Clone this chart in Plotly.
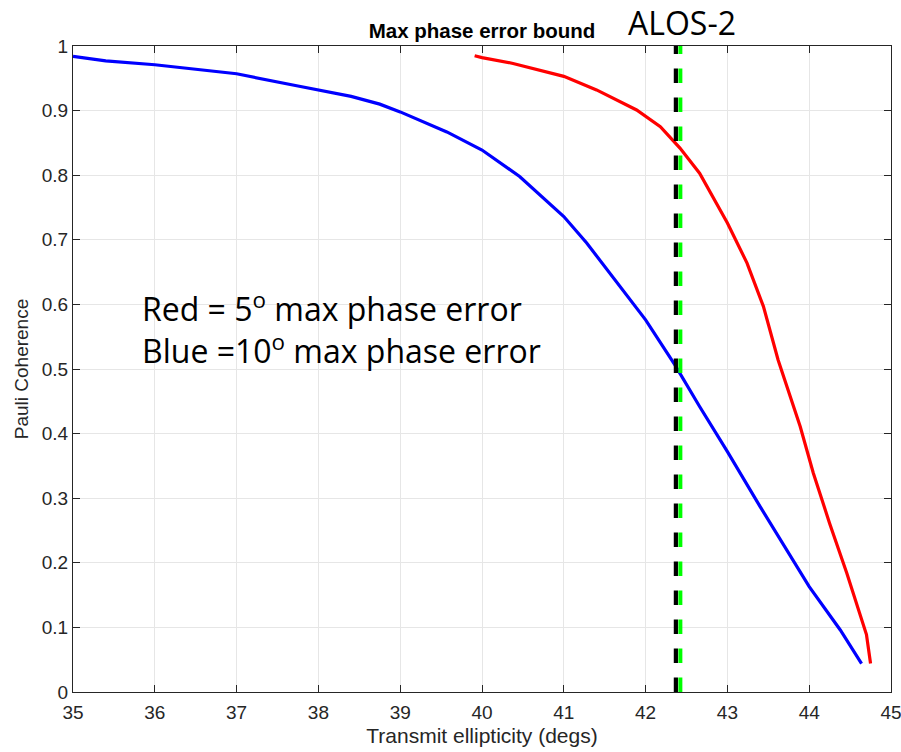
import plotly.graph_objects as go

# Blue curve: 10 deg max phase error
blue_x = [35, 35.4, 36, 37, 37.75, 38.4, 38.75, 39, 39.57, 40, 40.46, 41, 41.28, 41.6,
          42, 42.36, 42.66, 43, 43.4, 44, 44.38, 44.64]
blue_y = [0.984, 0.977, 0.971, 0.957, 0.938, 0.922, 0.910, 0.898, 0.867, 0.839, 0.798,
          0.736, 0.695, 0.643, 0.576, 0.506, 0.442, 0.372, 0.287, 0.163, 0.096, 0.044]

# Red curve: 5 deg max phase error
red_x = [39.91, 40, 40.38, 41, 41.4, 41.89, 42.18, 42.42, 42.66, 43, 43.24, 43.44, 43.62,
         43.89, 44.05, 44.25, 44.46, 44.70, 44.75]
red_y = [0.985, 0.982, 0.973, 0.953, 0.932, 0.901, 0.875, 0.842, 0.803, 0.726, 0.664,
         0.597, 0.514, 0.411, 0.339, 0.261, 0.184, 0.089, 0.044]

# Vertical bound markers
bound_black_x = 42.37
bound_green_x = 42.425
bound_y = [0, 1]

x_ticks = list(range(35, 46))
y_ticks = [0, 0.1, 0.2, 0.3, 0.4, 0.5, 0.6, 0.7, 0.8, 0.9, 1]
y_tick_labels = ["0", "0.1", "0.2", "0.3", "0.4", "0.5", "0.6", "0.7", "0.8", "0.9", "1"]

fig = go.Figure()
fig.add_trace(go.Scatter(x=blue_x, y=blue_y, mode="lines",
                         line=dict(color="#0000ff", width=3.2), showlegend=False))
fig.add_trace(go.Scatter(x=red_x, y=red_y, mode="lines",
                         line=dict(color="#ff0000", width=3.2), showlegend=False))
fig.add_trace(go.Scatter(x=[bound_black_x, bound_black_x], y=bound_y, mode="lines",
                         line=dict(color="#000000", width=4.2, dash="14.5px,14.5px"),
                         showlegend=False))
fig.add_trace(go.Scatter(x=[bound_green_x, bound_green_x], y=bound_y, mode="lines",
                         line=dict(color="#00ff00", width=4, dash="14.5px,14.5px"),
                         showlegend=False))

axis_common = dict(
    showline=True, linecolor="#262626", linewidth=1, mirror="allticks",
    ticks="inside", ticklen=7, tickcolor="#262626", tickwidth=1,
    showgrid=True, gridcolor="#e6e6e6", gridwidth=1, zeroline=False,
    tickfont=dict(family="Liberation Sans", size=19, color="#262626"),
    automargin=False, ticklabeloverflow="allow",
)

fig.update_layout(
    width=901, height=752,
    margin=dict(l=73, r=10, t=46, b=60, pad=0),
    paper_bgcolor="white", plot_bgcolor="white",
    title=dict(text="<b>Max phase error bound</b>", x=482 / 901, xref="container", xanchor="center",
               y=1 - 31 / 752, yref="container", yanchor="middle",
               font=dict(family="Liberation Sans", size=20.5, color="#000000")),
    xaxis=dict(range=[35, 45], tickvals=x_ticks, ticktext=[str(t) for t in x_ticks],
               ticklabelstandoff=3,
               title=dict(text="Transmit ellipticity (degs)", standoff=6,
                          font=dict(family="Liberation Sans", size=21, color="#262626")),
               **axis_common),
    yaxis=dict(range=[0, 1], tickvals=y_ticks, ticktext=y_tick_labels,
               title=dict(text="Pauli Coherence", standoff=8,
                          font=dict(family="Liberation Sans", size=19, color="#262626")),
               **axis_common),
    annotations=[
        dict(text="ALOS-2", xref="paper", yref="paper", x=0.744, y=1.037,
             xanchor="center", yanchor="middle", showarrow=False,
             font=dict(family="Open Sans", size=32, color="#000000")),
        dict(text="Red = 5<sup>o</sup> max phase error<br>Blue =10<sup>o</sup> max phase error",
             xref="paper", yref="paper", align="left",
             x=0.0819, y=0.563, xanchor="left", yanchor="middle", showarrow=False,
             font=dict(family="Open Sans", size=32, color="#000000")),
    ],
)

fig.write_html("out.html")
